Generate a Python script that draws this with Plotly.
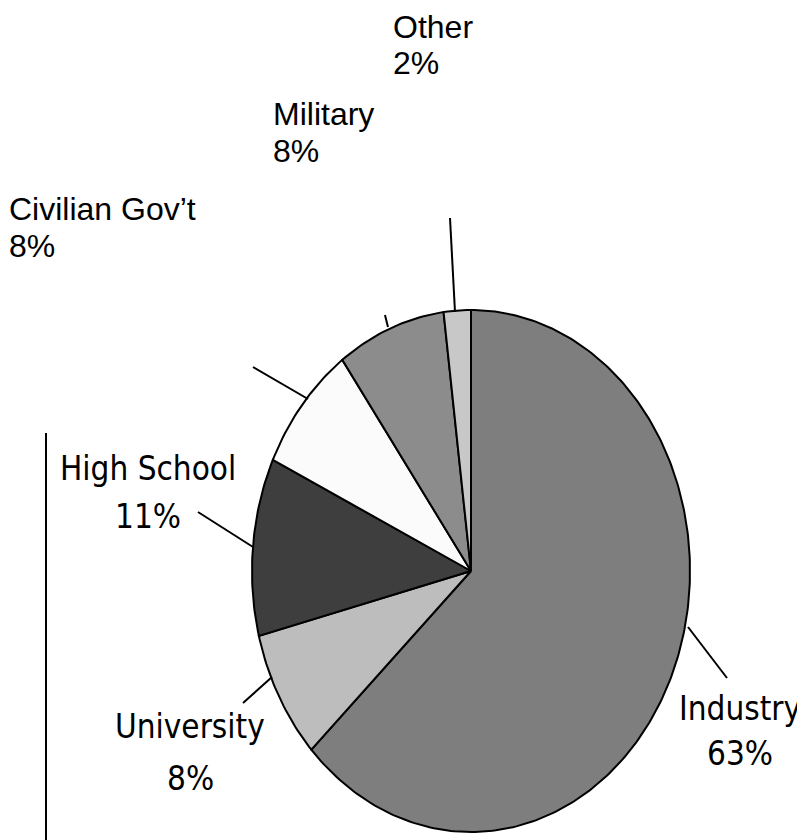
import numpy as np
import plotly.graph_objects as go

# slice data, clockwise from 12 o'clock
labels = ["Industry", "University", "High School", "Civilian Gov’t", "Military", "Other"]
values = [63, 8, 11, 8, 8, 2]
pct_text = ["63%", "8%", "11%", "8%", "8%", "2%"]
fills = ["#7e7e7e", "#bdbdbd", "#3e3e3e", "#fbfbfb", "#8c8c8c", "#c8c8c8"]

PAGE = 8                  # browser body margin around the plot div
W, H = 805 - PAGE, 840 - PAGE
CX, CY = 471, 571         # pie centre, screen px
RX, RY = 219, 261         # the scanned pie is an ellipse, so two radii


def px(x, y):
    # screen pixel -> paper coords
    return (x - PAGE) / W, 1 - (y - PAGE) / H


fig = go.Figure()

total = float(sum(values))
start = 0.0
for lab, v, col in zip(labels, values, fills):
    end = start + v / total * 2 * np.pi
    t = np.linspace(start, end, max(int(v * 4), 8))
    xs = np.concatenate([[0], np.sin(t), [0]])
    ys = np.concatenate([[0], np.cos(t), [0]])
    fig.add_trace(go.Scatter(
        x=xs, y=ys, mode="lines", fill="toself", fillcolor=col,
        line=dict(color="black", width=2), name=lab, hoverinfo="name"
    ))
    start = end

arial = "Liberation Sans, Arial, sans-serif"
narrow = "DejaVu Sans Condensed, Liberation Sans Narrow, sans-serif"

# typed labels at the top (left aligned): x left, box-top of each line
# ("Other" is pushed down a little so it stays inside the page)
top_labels = [
    (labels[5], pct_text[5], 392, 8, 44),
    (labels[4], pct_text[4], 272, 95, 132),
    (labels[3], pct_text[3], 8, 190, 227),
]
for name, pct, x0, y1, y2 in top_labels:
    for txt, yy in ((name, y1), (pct, y2)):
        ax, ay = px(x0, yy)
        fig.add_annotation(x=ax, y=ay, xref="paper", yref="paper", text=txt,
                           showarrow=False, xanchor="left", yanchor="top",
                           borderpad=0, font=dict(family=arial, size=32, color="black"))

# scanned labels beside the pie (centred)
side_labels = [
    (labels[2], pct_text[2], 148, 455, 503),
    (labels[0], pct_text[0], 740, 695, 740),
    (labels[1], pct_text[1], 190, 713, 765),
]
for name, pct, xc, y1, y2 in side_labels:
    for txt, yy in ((name, y1), (pct, y2)):
        ax, ay = px(xc, yy - 7)
        fig.add_annotation(x=ax, y=ay, xref="paper", yref="paper", text=txt,
                           showarrow=False, xanchor="center", yanchor="top",
                           borderpad=0, font=dict(family=narrow, size=33, color="black"))

# leader lines and the scan's frame edge
leaders = [
    ((450, 218), (455, 312)),
    ((385, 315), (388, 327)),
    ((253, 367), (308, 399)),
    ((198, 512), (253, 547)),
    ((243, 703), (272, 677)),
    ((688, 627), (727, 678)),
    ((46, 433), (46, 840)),
]
for (xa, ya), (xb, yb) in leaders:
    p0, p1 = px(xa, ya), px(xb, yb)
    fig.add_shape(type="line", xref="paper", yref="paper",
                  x0=p0[0], y0=p0[1], x1=p1[0], y1=p1[1],
                  line=dict(color="black", width=2))

fig.update_layout(
    width=W, height=H,
    margin=dict(l=0, r=0, t=0, b=0),
    paper_bgcolor="white", plot_bgcolor="white",
    showlegend=False,
    xaxis=dict(range=[-(CX - PAGE) / RX, (W - (CX - PAGE)) / RX], visible=False, fixedrange=True),
    yaxis=dict(range=[(CY - PAGE - H) / RY, (CY - PAGE) / RY], visible=False, fixedrange=True),
)

fig.write_html("out.html")
